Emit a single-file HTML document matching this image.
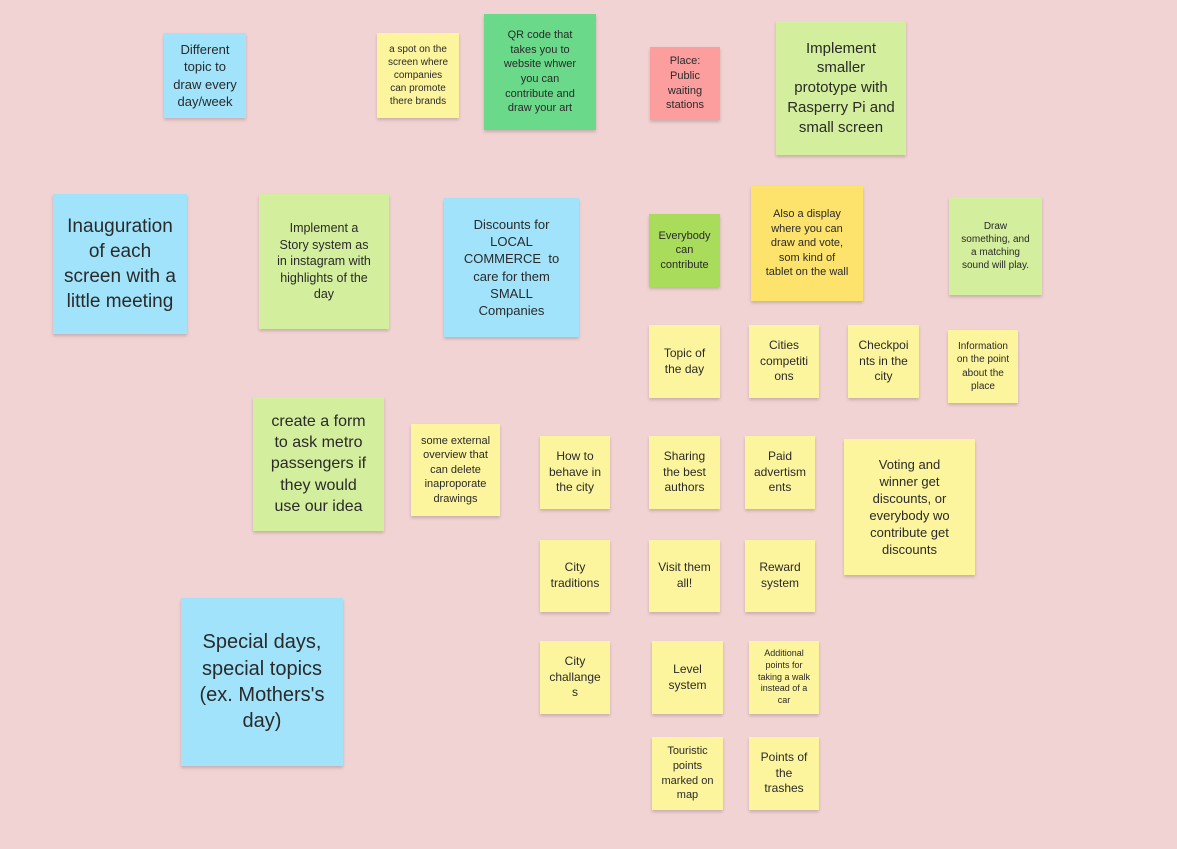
<!DOCTYPE html>
<html><head><meta charset="utf-8"><style>
body{margin:0;width:1177px;height:849px;background:#f2d3d3;position:relative;overflow:hidden;font-family:"Liberation Sans",sans-serif;}
.n{position:absolute;display:flex;align-items:center;justify-content:center;text-align:center;color:#2a2a2a;box-shadow:0 2px 3px rgba(0,0,0,0.18);box-sizing:border-box;padding:3px;line-height:1.32;}
.b{background:#a1e3fb}.y{background:#fdf59e}.g{background:#d3ee9c}.dg{background:#6bd98a}.r{background:#fc9e9e}.l{background:#a8dc5a}.o{background:#fde36b}
</style></head><body>
<div class="n b" style="left:164px;top:33px;width:82px;height:85px;font-size:13px">Different<br>topic to<br>draw every<br>day/week</div>
<div class="n y" style="left:377px;top:33px;width:82px;height:85px;font-size:10px">a spot on the<br>screen where<br>companies<br>can promote<br>there brands</div>
<div class="n dg" style="left:484px;top:14px;width:112px;height:116px;font-size:11px">QR code that<br>takes you to<br>website whwer<br>you can<br>contribute and<br>draw your art</div>
<div class="n r" style="left:650px;top:47px;width:70px;height:73px;font-size:11px">Place:<br>Public<br>waiting<br>stations</div>
<div class="n g" style="left:776px;top:21px;width:130px;height:134px;font-size:15px">Implement<br>smaller<br>prototype with<br>Rasperry Pi and<br>small screen</div>
<div class="n b" style="left:53px;top:194px;width:134px;height:140px;font-size:19px">Inauguration<br>of each<br>screen with a<br>little meeting</div>
<div class="n g" style="left:259px;top:194px;width:130px;height:135px;font-size:12.5px">Implement a<br>Story system as<br>in instagram with<br>highlights of the<br>day</div>
<div class="n b" style="left:444px;top:198px;width:135px;height:139px;font-size:13px">Discounts for<br>LOCAL<br>COMMERCE&nbsp; to<br>care for them<br>SMALL<br>Companies</div>
<div class="n l" style="left:649px;top:214px;width:71px;height:73px;font-size:11px">Everybody<br>can<br>contribute</div>
<div class="n o" style="left:751px;top:186px;width:112px;height:115px;font-size:11px">Also a display<br>where you can<br>draw and vote,<br>som kind of<br>tablet on the wall</div>
<div class="n g" style="left:949px;top:197px;width:93px;height:98px;font-size:10px">Draw<br>something, and<br>a matching<br>sound will play.</div>
<div class="n y" style="left:649px;top:325px;width:71px;height:73px;font-size:12px">Topic of<br>the day</div>
<div class="n y" style="left:749px;top:325px;width:70px;height:73px;font-size:12px">Cities<br>competiti<br>ons</div>
<div class="n y" style="left:848px;top:325px;width:71px;height:73px;font-size:12px">Checkpoi<br>nts in the<br>city</div>
<div class="n y" style="left:948px;top:330px;width:70px;height:73px;font-size:10px">Information<br>on the point<br>about the<br>place</div>
<div class="n g" style="left:253px;top:397px;width:131px;height:134px;font-size:16px">create a form<br>to ask metro<br>passengers if<br>they would<br>use our idea</div>
<div class="n y" style="left:411px;top:424px;width:89px;height:92px;font-size:11px">some external<br>overview that<br>can delete<br>inaproporate<br>drawings</div>
<div class="n y" style="left:540px;top:436px;width:70px;height:73px;font-size:12px">How to<br>behave in<br>the city</div>
<div class="n y" style="left:649px;top:436px;width:71px;height:73px;font-size:12px">Sharing<br>the best<br>authors</div>
<div class="n y" style="left:745px;top:436px;width:70px;height:73px;font-size:12px">Paid<br>advertism<br>ents</div>
<div class="n y" style="left:844px;top:439px;width:131px;height:136px;font-size:13px">Voting and<br>winner get<br>discounts, or<br>everybody wo<br>contribute get<br>discounts</div>
<div class="n y" style="left:540px;top:540px;width:70px;height:72px;font-size:12px">City<br>traditions</div>
<div class="n y" style="left:649px;top:540px;width:71px;height:72px;font-size:12px">Visit them<br>all!</div>
<div class="n y" style="left:745px;top:540px;width:70px;height:72px;font-size:12px">Reward<br>system</div>
<div class="n b" style="left:181px;top:598px;width:162px;height:168px;font-size:20px">Special days,<br>special topics<br>(ex. Mothers's<br>day)</div>
<div class="n y" style="left:540px;top:641px;width:70px;height:73px;font-size:12px">City<br>challange<br>s</div>
<div class="n y" style="left:652px;top:641px;width:71px;height:73px;font-size:12px">Level<br>system</div>
<div class="n y" style="left:749px;top:641px;width:70px;height:73px;font-size:9px">Additional<br>points for<br>taking a walk<br>instead of a<br>car</div>
<div class="n y" style="left:652px;top:737px;width:71px;height:73px;font-size:11px">Touristic<br>points<br>marked on<br>map</div>
<div class="n y" style="left:749px;top:737px;width:70px;height:73px;font-size:12px">Points of<br>the<br>trashes</div>
</body></html>
